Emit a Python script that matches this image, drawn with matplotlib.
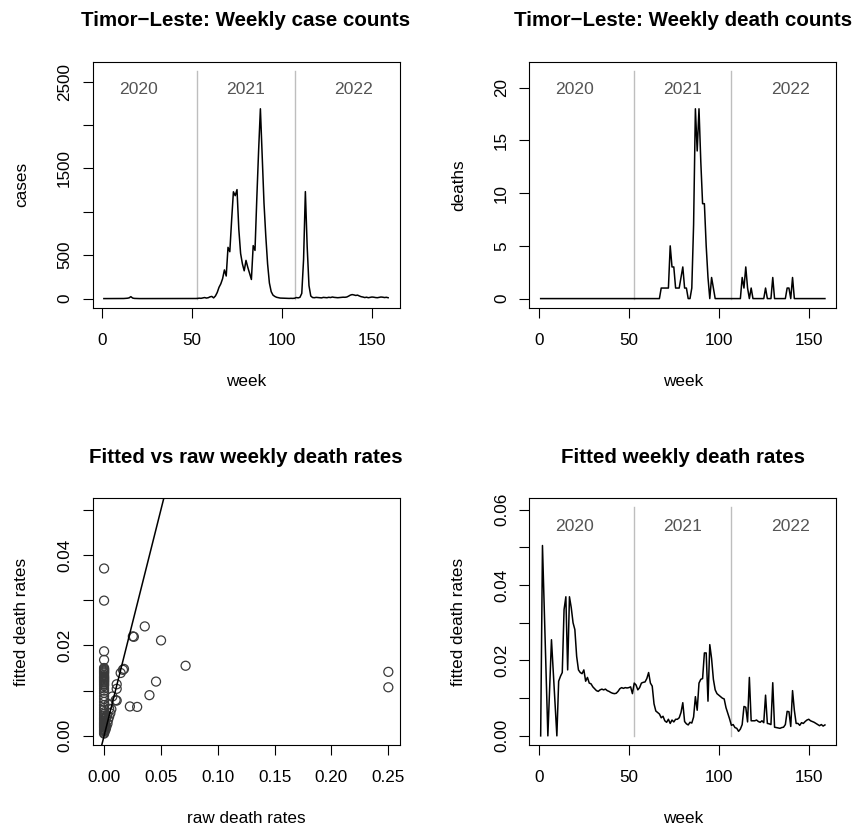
import matplotlib
matplotlib.use('Agg')
import matplotlib.pyplot as plt
import numpy as np

plt.rcParams['font.family'] = ['Liberation Sans', 'DejaVu Sans']

# ---------------- data ----------------
weeks = list(range(1, 160))

cases = [
    0, 0, 0, 1, 0, 0, 0, 0, 1, 0,
    0, 1, 2, 4, 8, 22, 6, 2, 1, 0,
    0, 0, 1, 0, 0, 0, 0, 1, 0, 0,
    0, 0, 0, 0, 1, 0, 0, 0, 0, 0,
    0, 0, 1, 0, 0, 0, 0, 0, 1, 0,
    0, 1, 2, 5, 3, 8, 12, 6, 10, 20,
    25, 8, 30, 70, 130, 170, 230, 330, 260, 590,
    540, 900, 1230, 1185, 1255, 800, 520, 400, 320, 440,
    360, 290, 220, 610, 555, 1150, 1700, 2186, 1650, 1100,
    720, 400, 180, 80, 40, 25, 15, 10, 6, 5,
    4, 3, 3, 2, 3, 2, 4, 12, 8, 15,
    60, 450, 1232, 600, 150, 30, 12, 10, 14, 12,
    10, 8, 14, 12, 10, 15, 12, 18, 14, 12,
    10, 12, 14, 16, 15, 18, 28, 40, 46, 42,
    36, 40, 30, 22, 18, 12, 16, 10, 14, 18,
    16, 12, 10, 14, 18, 16, 12, 15, 10,
]

deaths = (
    [0] * 67 +
    [1, 1, 1, 1, 1, 5, 3, 3, 1, 1,      # weeks 68-77
     1, 2, 3, 1, 1, 0, 0, 1, 7, 18,     # weeks 78-87
     14, 18, 13, 9, 9, 5, 2, 0, 2, 1,   # weeks 88-97
     0, 0, 0, 0, 0, 0, 0, 0, 0, 0,      # weeks 98-107
     0, 0, 0, 0, 0, 2, 1, 3, 1, 0,      # weeks 108-117
     1, 0, 0, 0, 0, 0, 0, 0, 1, 0,      # weeks 118-127
     0, 0, 2, 0, 0, 0, 0, 0, 0, 0,      # weeks 128-137
     1, 1, 0, 2, 0, 0, 0, 0, 0, 0,      # weeks 138-147
     0, 0, 0, 0, 0, 0, 0, 0, 0, 0,      # weeks 148-157
     0, 0]                              # weeks 158-159
)

fitted = [
    0.0, 0.0505, 0.0337, 0.0168, 0.0, 0.0128, 0.0255, 0.0170, 0.0085, 0.0,
    0.0145, 0.0158, 0.0168, 0.0335, 0.0369, 0.0175, 0.0369, 0.0340, 0.0300, 0.0282,
    0.0211, 0.0175, 0.0168, 0.0165, 0.0175, 0.0145, 0.0155, 0.0140, 0.0138, 0.0130,
    0.0125, 0.0120, 0.0118, 0.0122, 0.0124, 0.0122, 0.0124, 0.0120, 0.0118, 0.0115,
    0.0113, 0.0112, 0.0113, 0.0118, 0.0125, 0.0128, 0.0126, 0.0128, 0.0127, 0.0128,
    0.0130, 0.0112, 0.0140, 0.0135, 0.0122, 0.0128, 0.0140, 0.0142, 0.0143, 0.0152,
    0.0168, 0.0140, 0.0132, 0.0085, 0.0066, 0.0062, 0.0058, 0.0048, 0.0052, 0.0040,
    0.0036, 0.0044, 0.0033, 0.0042, 0.0037, 0.0044, 0.0044, 0.0048, 0.0062, 0.0088,
    0.0038, 0.0032, 0.0029, 0.0036, 0.0034, 0.0050, 0.0104, 0.0068, 0.0140, 0.0150,
    0.0152, 0.0220, 0.0220, 0.0092, 0.0242, 0.0205, 0.0150, 0.0122, 0.0112, 0.0108,
    0.0104, 0.0100, 0.0098, 0.0075, 0.0060, 0.0045, 0.0028, 0.0030, 0.0022, 0.0020,
    0.0012, 0.0018, 0.0030, 0.0078, 0.0076, 0.0037, 0.0155, 0.0040, 0.0040, 0.0040,
    0.0042, 0.0038, 0.0036, 0.0040, 0.0035, 0.0108, 0.0033, 0.0032, 0.0030, 0.0141,
    0.0023, 0.0022, 0.0021, 0.0020, 0.0022, 0.0023, 0.0030, 0.0065, 0.0064, 0.0025,
    0.0120, 0.0068, 0.0033, 0.0033, 0.0028, 0.0035, 0.0033, 0.0038, 0.0042, 0.0044,
    0.0040, 0.0038, 0.0036, 0.0033, 0.0030, 0.0027, 0.0030, 0.0026, 0.0029,
]

# scatter: raw vs fitted weekly death rates
zero_raw_fitted = [
    0.0370, 0.0299, 0.0187, 0.0168, 0.0150, 0.0148, 0.0146, 0.0144, 0.0142, 0.0140,
    0.0138, 0.0135, 0.0132, 0.0130, 0.0128, 0.0126, 0.0124, 0.0122, 0.0120, 0.0118,
    0.0115, 0.0113, 0.0110, 0.0105, 0.0100, 0.0095, 0.0088, 0.0082, 0.0075, 0.0068,
    0.0062, 0.0058, 0.0052, 0.0048, 0.0044, 0.0040, 0.0038, 0.0036, 0.0033, 0.0030,
    0.0028, 0.0026, 0.0024, 0.0022, 0.0020, 0.0018, 0.0015, 0.0012, 0.0010, 0.0007,
    0.0005,
]
nonzero_raw = [
    0.0358, 0.0253, 0.0262, 0.0501, 0.0717, 0.25, 0.25, 0.0175, 0.0166, 0.0146,
    0.0457, 0.0111, 0.0111, 0.0399, 0.0073, 0.0111, 0.0102, 0.0227, 0.0291, 0.0064,
    0.0044, 0.0030, 0.0015, 0.0045, 0.0035, 0.0020, 0.0010, 0.0025, 0.0010, 0.0008,
    0.0055, 0.0040, 0.0018,
]
nonzero_fitted = [
    0.0242, 0.0220, 0.0219, 0.0211, 0.0155, 0.01415, 0.01074, 0.0148, 0.0146, 0.0139,
    0.0120, 0.0114, 0.0104, 0.0090, 0.0087, 0.0078, 0.0079, 0.0065, 0.0064, 0.0059,
    0.0042, 0.0027, 0.0016, 0.0060, 0.0035, 0.0020, 0.0012, 0.0045, 0.0030, 0.0022,
    0.0050, 0.0070, 0.0040,
]

year_labels = ['2020', '2021', '2022']
year_label_x = [20, 80, 140]
year_starts = [53, 107]

week_ticks = [0, 50, 100, 150]
week_tick_labels = ['0', '50', '100', '150']
case_ticks = [0, 500, 1000, 1500, 2000, 2500]
case_tick_labels = ['0', '500', '', '1500', '', '2500']
death_ticks = [0, 5, 10, 15, 20]
death_tick_labels = ['0', '5', '10', '15', '20']
raw_ticks = [0, 0.05, 0.10, 0.15, 0.20, 0.25]
raw_tick_labels = ['0.00', '0.05', '0.10', '0.15', '0.20', '0.25']
fit3_ticks = [0, 0.01, 0.02, 0.03, 0.04, 0.05]
fit3_tick_labels = ['0.00', '', '0.02', '', '0.04', '']
fit4_ticks = [0, 0.01, 0.02, 0.03, 0.04, 0.05, 0.06]
fit4_tick_labels = ['0.00', '', '0.02', '', '0.04', '', '0.06']

# ---------------- layout ----------------
W, H = 859, 830
fig = plt.figure(figsize=(W / 100, H / 100), dpi=100)

FS = 12.3
TITLE_FS = 14.8


def px_axes(left, top, right, bottom):
    return fig.add_axes([left / W, 1 - bottom / H, (right - left) / W, (bottom - top) / H])


def style(ax, xt, xtl, yt, ytl, title, xlabel, ylabel):
    for s in ax.spines.values():
        s.set_linewidth(0.8)
        s.set_color('black')
    ax.set_xticks(xt)
    ax.set_xticklabels(xtl)
    ax.set_yticks(yt)
    ax.set_yticklabels(ytl)
    ax.tick_params(axis='both', direction='out', length=7.2, width=0.8,
                   labelsize=FS, colors='black')
    ax.tick_params(axis='x', pad=11.0)
    ax.tick_params(axis='y', pad=7.4)
    for lab in ax.get_yticklabels():
        lab.set_rotation(90)
        lab.set_va('center')
        lab.set_ha('right')
    h = ax.get_position().height * H
    w = ax.get_position().width * W
    ax.set_title(title, fontsize=TITLE_FS, fontweight='bold', y=1 + 41 / h,
                 va='center', pad=0)
    ax.set_xlabel(xlabel, fontsize=FS)
    ax.xaxis.set_label_coords(0.5, -73.3 / h)
    ax.xaxis.label.set_va('center')
    ax.set_ylabel(ylabel, fontsize=FS)
    ax.yaxis.set_label_coords(-71 / w, 0.5)
    ax.yaxis.label.set_va('center')


def time_panel(ax, y, ylabel, title, yt, ytl):
    ymax = max(y)
    top = 1.2 * ymax
    for xs in year_starts:
        ax.plot([xs, xs], [0, top], color='#BEBEBE', lw=1.0, zorder=1)
    ax.plot(weeks, y, color='black', lw=1.1, zorder=2)
    for lab, xl in zip(year_labels, year_label_x):
        ax.text(xl, 1.1 * ymax, lab, ha='center', va='center',
                fontsize=12.6, color='#555555')
    xr = max(weeks) - min(weeks)
    ax.set_xlim(min(weeks) - 0.04 * xr, max(weeks) + 0.04 * xr)
    ax.set_ylim(-0.04 * top, 1.04 * top)
    style(ax, week_ticks, week_tick_labels, yt, ytl, title, 'week', ylabel)


ax1 = px_axes(92.5, 61.7, 399.5, 307.7)
time_panel(ax1, cases, 'cases', 'Timor\u2212Leste: Weekly case counts',
           case_ticks, case_tick_labels)

ax2 = px_axes(529.3, 61.7, 836.3, 307.7)
time_panel(ax2, deaths, 'deaths', 'Timor\u2212Leste: Weekly death counts',
           death_ticks, death_tick_labels)

ax3 = px_axes(92.7, 498.3, 399.7, 745.0)
sx = [0.0] * len(zero_raw_fitted) + nonzero_raw
sy = zero_raw_fitted + nonzero_fitted
ax3.scatter(sx, sy, s=42, facecolors='none', edgecolors='#3a3a3a',
            linewidths=0.9, zorder=2)
ax3.axline((0, 0), slope=1, color='black', lw=1.1, zorder=3)
xmax = 0.25
ax3.set_xlim(-0.04 * xmax, 1.04 * xmax)
fmax = max(fitted)
ax3.set_ylim(-0.04 * fmax, 1.04 * fmax)
style(ax3, raw_ticks, raw_tick_labels, fit3_ticks, fit3_tick_labels,
      'Fitted vs raw weekly death rates', 'raw death rates', 'fitted death rates')

ax4 = px_axes(529.3, 498.3, 836.3, 745.0)
time_panel(ax4, fitted, 'fitted death rates', 'Fitted weekly death rates',
           fit4_ticks, fit4_tick_labels)

fig.savefig('out.png', dpi=100)
